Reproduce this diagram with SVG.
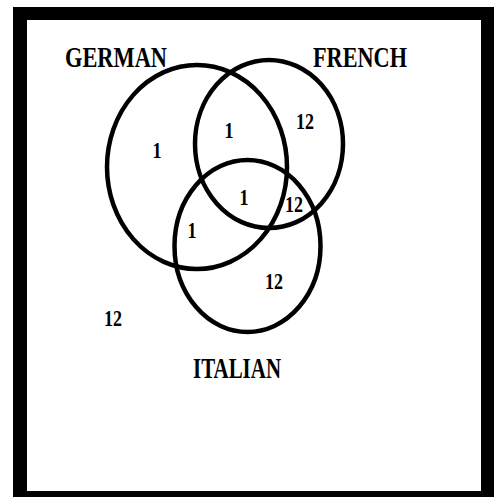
<svg xmlns="http://www.w3.org/2000/svg" width="494" height="497" viewBox="0 0 494 497">
<style>
.set{fill:none;stroke:#000;stroke-width:4.5}
.lbl{font-family:"Liberation Serif","Times New Roman",serif;font-weight:bold;font-size:30px;fill:#000}
.num{font-family:"Liberation Serif","Times New Roman",serif;font-weight:bold;font-size:24px;fill:#000;text-anchor:middle}
</style>
<rect x="0" y="0" width="494" height="497" fill="#fff"/>
<rect x="13" y="7" width="481" height="490" fill="#000"/>
<rect x="27" y="20" width="454" height="471" fill="#fff"/>
<g id="german">
<ellipse class="set" cx="197" cy="167" rx="90" ry="102"/>
<text class="lbl" x="65" y="67" textLength="102" lengthAdjust="spacingAndGlyphs">GERMAN</text>
</g>
<g id="french">
<ellipse class="set" cx="269" cy="144" rx="74" ry="84"/>
<text class="lbl" x="313" y="67" textLength="94" lengthAdjust="spacingAndGlyphs">FRENCH</text>
</g>
<g id="italian">
<ellipse class="set" cx="247.5" cy="246" rx="73" ry="86"/>
<text class="lbl" x="193" y="378" textLength="88" lengthAdjust="spacingAndGlyphs">ITALIAN</text>
</g>
<g id="counts">
<text class="num" x="157" y="158" textLength="9" lengthAdjust="spacingAndGlyphs">1</text>
<text class="num" x="229" y="138" textLength="9" lengthAdjust="spacingAndGlyphs">1</text>
<text class="num" x="305" y="129" textLength="18" lengthAdjust="spacingAndGlyphs">12</text>
<text class="num" x="244" y="205" textLength="9" lengthAdjust="spacingAndGlyphs">1</text>
<text class="num" x="294" y="212" textLength="18" lengthAdjust="spacingAndGlyphs">12</text>
<text class="num" x="192" y="238" textLength="9" lengthAdjust="spacingAndGlyphs">1</text>
<text class="num" x="274" y="289" textLength="18" lengthAdjust="spacingAndGlyphs">12</text>
<text class="num" x="113" y="326" textLength="18" lengthAdjust="spacingAndGlyphs">12</text>
</g>
<g id="connectors"/>
</svg>
